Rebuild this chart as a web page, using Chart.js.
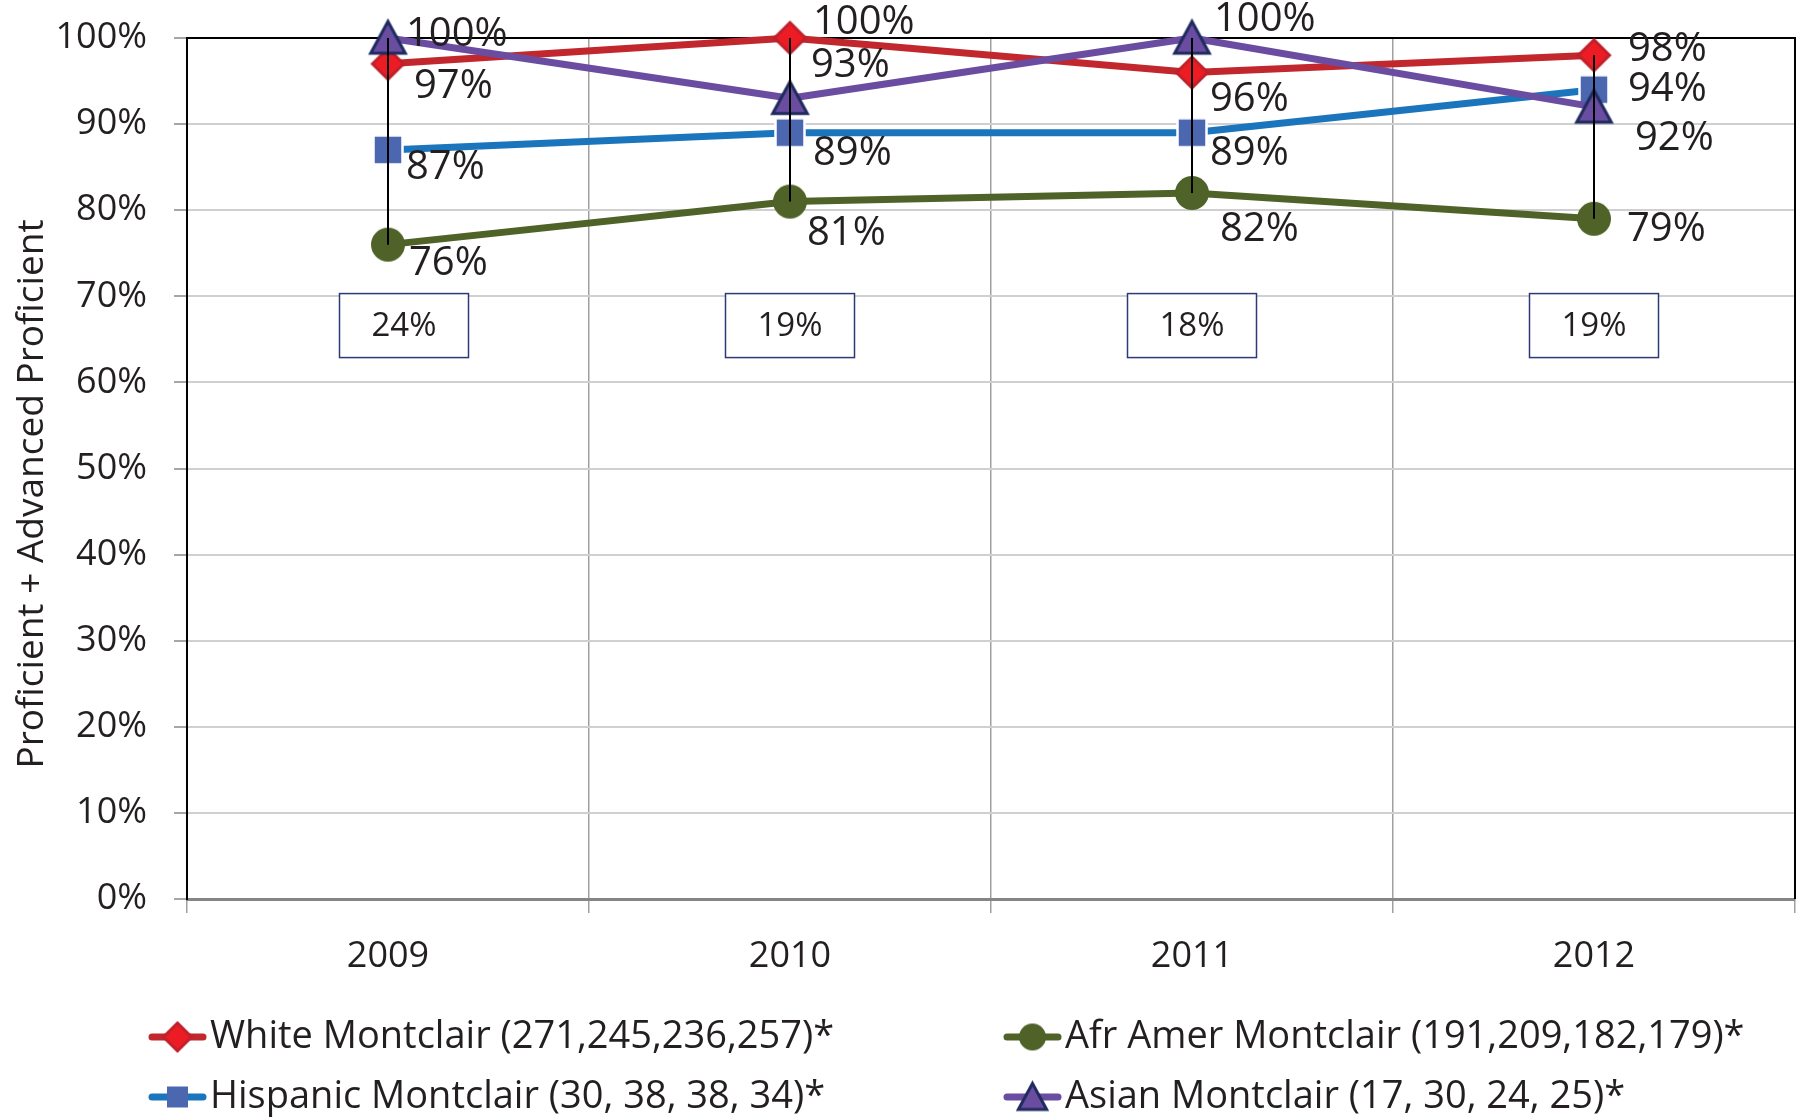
<!DOCTYPE html>
<html>
<head>
<meta charset="utf-8">
<script src="https://cdn.jsdelivr.net/npm/chart.js@4.4.1/dist/chart.umd.min.js"></script>
<style>
  html, body { margin: 0; padding: 0; background: #fff; }
  #wrap { width: 1797px; height: 1120px; }
</style>
</head>
<body>
<div id="wrap"><canvas id="chart" width="1797" height="1120"></canvas></div>
<script>
(function() {
  "use strict";

  // data
  const years = ["2009", "2010", "2011", "2012"];
  const whiteMontclair = [97, 100, 96, 98];
  const afrAmerMontclair = [76, 81, 82, 79];
  const hispanicMontclair = [87, 89, 89, 94];
  const asianMontclair = [100, 93, 100, 92];
  const gapLabels = ["24%", "19%", "18%", "19%"];
  const seriesNames = [
    "White Montclair (271,245,236,257)*",
    "Afr Amer Montclair (191,209,182,179)*",
    "Hispanic Montclair (30, 38, 38, 34)*",
    "Asian Montclair (17, 30, 24, 25)*",
  ];
  const yTitle = "Proficient + Advanced Proficient";

  const FONT = "'Open Sans', 'Noto Sans', sans-serif";
  const TEXT = "#231F20";

  // marker images, centred on the point
  function makeMarker(type, s, fill, stroke, bw) {
    const size = Math.ceil(2 * s + 2 * bw + 4);
    const c = document.createElement("canvas");
    c.width = size;
    c.height = size;
    const g = c.getContext("2d");
    const m = size / 2;
    g.fillStyle = fill;
    g.strokeStyle = stroke;
    g.lineWidth = bw;
    g.beginPath();
    if (type === "diamond") {
      g.moveTo(m, m - s); g.lineTo(m + s, m); g.lineTo(m, m + s); g.lineTo(m - s, m);
      g.closePath();
    } else if (type === "triangle") {
      g.moveTo(m, m - s); g.lineTo(m + s * 1.05, m + s * 0.92); g.lineTo(m - s * 1.05, m + s * 0.92);
      g.closePath();
    } else if (type === "circle") {
      g.arc(m, m, s, 0, Math.PI * 2);
    } else {
      g.rect(m - s, m - s, 2 * s, 2 * s);
    }
    g.fill();
    if (bw > 0) g.stroke();
    return c;
  }

  const markers = [
    makeMarker("diamond", 15.5, "#ED1C24", "#C0202A", 3),
    makeMarker("circle", 17, "#4F6228", "#4F6228", 0),
    makeMarker("square", 14.5, "#4A67B0", "#FFFFFF", 2.5),
    makeMarker("triangle", 16.5, "#6A4DA0", "#1F2A5E", 3),
  ];
  const legendMarkers = [
    makeMarker("diamond", 14, "#ED1C24", "#C0202A", 3),
    makeMarker("circle", 13.5, "#4F6228", "#4F6228", 0),
    makeMarker("square", 10.5, "#4A67B0", "#FFFFFF", 0),
    makeMarker("triangle", 13.5, "#6A4DA0", "#1F2A5E", 3),
  ];
  const lineColors = ["#C1272D", "#4F6228", "#1B75BC", "#6A4DA0"];

  // label placement: [dx, dy] from the point, per series and year
  const labelOffsets = [
    [[26, 23], [23, -15], [18, 27], [34, -6]],
    [[21, 19], [17, 32], [28, 37], [33, 11]],
    [[18, 18], [23, 21], [18, 21], [34, 0]],
    [[18, -3], [21, -33], [22, -18], [41, 32]],
  ];
  const boxDx = [16, 0, 0, 0];

  const decor = {
    id: "decor",
    beforeDatasetsDraw(chart) {
      const {ctx, chartArea: a} = chart;
      ctx.save();
      ctx.strokeStyle = "#000";
      ctx.lineWidth = 2;
      ctx.beginPath();
      ctx.moveTo(a.left, a.bottom);
      ctx.lineTo(a.left, a.top);
      ctx.lineTo(a.right, a.top);
      ctx.lineTo(a.right, a.bottom);
      ctx.stroke();
      ctx.restore();
    },
    afterDatasetsDraw(chart) {
      const {ctx} = chart;
      const ys = chart.scales.y;
      const sets = chart.data.datasets;
      ctx.save();
      // high-low lines
      ctx.strokeStyle = "#000";
      ctx.lineWidth = 2;
      years.forEach((_, i) => {
        const vals = sets.map((d) => d.data[i]);
        const x = chart.getDatasetMeta(0).data[i].x;
        ctx.beginPath();
        ctx.moveTo(x, ys.getPixelForValue(Math.max(...vals)));
        ctx.lineTo(x, ys.getPixelForValue(Math.min(...vals)));
        ctx.stroke();
      });
      // value labels
      ctx.fillStyle = TEXT;
      ctx.font = "40px " + FONT;
      ctx.textAlign = "left";
      ctx.textBaseline = "middle";
      sets.forEach((d, k) => {
        const meta = chart.getDatasetMeta(k);
        d.data.forEach((v, i) => {
          const p = meta.data[i];
          const o = labelOffsets[k][i];
          ctx.fillText(v + "%", p.x + o[0], p.y + o[1]);
        });
      });
      ctx.restore();
    },
    afterDraw(chart) {
      const {ctx} = chart;
      const ys = chart.scales.y;
      ctx.save();
      // gap boxes
      gapLabels.forEach((t, i) => {
        const cx = chart.getDatasetMeta(0).data[i].x + boxDx[i];
        const cy = ys.getPixelForValue(66.6);
        ctx.fillStyle = "#fff";
        ctx.fillRect(cx - 64.5, cy - 32, 129, 64);
        ctx.strokeStyle = "#2E3A78";
        ctx.lineWidth = 1.5;
        ctx.strokeRect(cx - 64.5, cy - 32, 129, 64);
        ctx.fillStyle = TEXT;
        ctx.font = "33px " + FONT;
        ctx.textAlign = "center";
        ctx.textBaseline = "middle";
        ctx.fillText(t, cx, cy + 1);
      });
      // y-axis title
      ctx.save();
      ctx.translate(32, 494);
      ctx.rotate(-Math.PI / 2);
      ctx.fillStyle = TEXT;
      ctx.font = "37px " + FONT;
      ctx.textAlign = "center";
      ctx.textBaseline = "middle";
      ctx.fillText(yTitle, 0, 0);
      ctx.restore();
      // legend
      const colX = [149, 1004];
      const rowY = [1037, 1097];
      seriesNames.forEach((name, k) => {
        const x0 = colX[k % 2];
        const y = rowY[Math.floor(k / 2)];
        ctx.strokeStyle = lineColors[k];
        ctx.lineWidth = 7;
        ctx.lineCap = "round";
        ctx.beginPath();
        ctx.moveTo(x0 + 3, y);
        ctx.lineTo(x0 + 54, y);
        ctx.stroke();
        const img = legendMarkers[k];
        ctx.drawImage(img, x0 + 28.5 - img.width / 2, y - img.height / 2);
        ctx.fillStyle = TEXT;
        ctx.font = "38px " + FONT;
        ctx.textAlign = "left";
        ctx.textBaseline = "middle";
        ctx.fillText(name, x0 + 61, y);
      });
      ctx.restore();
    },
  };

  const seriesData = [whiteMontclair, afrAmerMontclair, hispanicMontclair, asianMontclair];
  const drawOrder = [3, 2, 1, 0];

  Chart.defaults.font.family = FONT;
  Chart.defaults.color = TEXT;

  new Chart(document.getElementById("chart").getContext("2d"), {
    type: "line",
    data: {
      labels: years,
      datasets: seriesData.map((d, k) => ({
        label: seriesNames[k],
        data: d,
        borderColor: lineColors[k],
        backgroundColor: lineColors[k],
        borderWidth: 7,
        borderJoinStyle: "round",
        tension: 0,
        pointStyle: markers[k],
        pointRadius: 17,
        clip: false,
        order: drawOrder[k],
      })),
    },
    options: {
      responsive: false,
      animation: false,
      events: [],
      layout: {autoPadding: false, padding: {top: 38, right: 2, bottom: 148, left: 0}},
      plugins: {legend: {display: false}, tooltip: {enabled: false}},
      scales: {
        x: {
          offset: true,
          grid: {offset: true, color: "#A0A0A0", lineWidth: 1.5, tickLength: 14},
          border: {color: "#858585", width: 3},
          ticks: {font: {size: 36}, padding: 22, color: TEXT},
          afterFit: (s) => {
            s.height = 73;
            s.paddingLeft = 0;
            s.paddingRight = 0;
          },
        },
        y: {
          min: 0,
          max: 100,
          grid: {color: "#D0D0D0", lineWidth: 2, tickLength: 13, tickColor: "#A6A6A6"},
          border: {color: "#000", width: 2},
          ticks: {stepSize: 10, font: {size: 36}, padding: 27, color: TEXT, callback: (v) => v + "%"},
          afterFit: (s) => {
            s.width = 187;
            s.paddingTop = 0;
            s.paddingBottom = 0;
          },
        },
      },
    },
    plugins: [decor],
  });
})();
</script>
</body>
</html>
